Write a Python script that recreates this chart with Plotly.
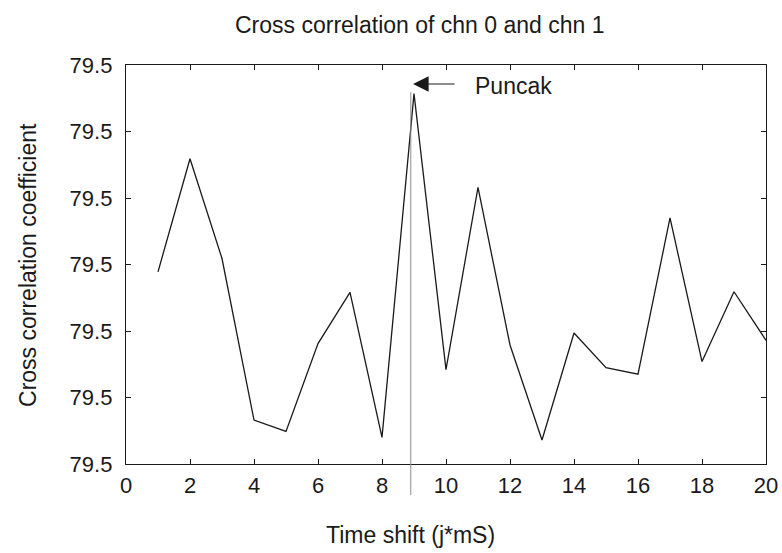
import plotly.graph_objects as go

time_shift = list(range(1, 21))
coeff = [79.50289, 79.50459, 79.50309, 79.50066, 79.50049, 79.50181, 79.50258,
         79.50040, 79.50557, 79.50142, 79.50416, 79.50179, 79.50036, 79.50197,
         79.50145, 79.50135, 79.50370, 79.50154, 79.50259, 79.50186]
y_ticks = [79.500, 79.501, 79.502, 79.503, 79.504, 79.505, 79.506]
x_ticks = list(range(0, 21, 2))
peak_marker_x = 8.9
peak_arrow_tip = (8.97, 79.505714)
peak_label_pos = (10.84, 79.505684)

FONT = "Liberation Sans, Arial, Helvetica, sans-serif"

fig = go.Figure()
fig.add_trace(go.Scatter(x=time_shift, y=coeff, mode="lines",
                         line=dict(color="#1a1a1a", width=1.3),
                         showlegend=False, hoverinfo="skip"))

fig.add_shape(type="line", xref="x", yref="paper",
              x0=peak_marker_x, x1=peak_marker_x, y0=-0.078, y1=0.932,
              line=dict(color="#8c8c8c", width=1))

axis_common = dict(showgrid=False, zeroline=False, showline=True,
                   linecolor="#1a1a1a", linewidth=1.2, mirror="ticks",
                   ticks="inside", ticklen=5, tickcolor="#1a1a1a",
                   automargin=False,
                   tickfont=dict(family=FONT, size=22, color="#1a1a1a"))

fig.update_xaxes(range=[0, 20], tickvals=x_ticks, ticklabelstandoff=1, **axis_common)
fig.update_yaxes(range=[79.500, 79.506], tickvals=y_ticks, tickformat=".1f",
                 ticklabelstandoff=8, **axis_common)

fig.add_annotation(x=peak_arrow_tip[0], y=peak_arrow_tip[1], xref="x", yref="y",
                   text="", showarrow=True, arrowhead=2, arrowsize=2.6,
                   arrowwidth=1.2, arrowcolor="#1a1a1a", ax=43, ay=0,
                   axref="pixel", ayref="pixel")
fig.add_annotation(x=peak_label_pos[0], y=peak_label_pos[1], xref="x", yref="y",
                   text="Puncak", showarrow=False, xanchor="left", yanchor="middle",
                   font=dict(family=FONT, size=23, color="#1a1a1a"))

fig.add_annotation(x=0.459, y=1.100, xref="paper", yref="paper",
                   text="Cross correlation of chn 0 and chn 1", showarrow=False,
                   xanchor="center", yanchor="middle",
                   font=dict(family=FONT, size=23, color="#1a1a1a"))
fig.add_annotation(x=0.444, y=-0.178, xref="paper", yref="paper",
                   text="Time shift (j*mS)", showarrow=False,
                   xanchor="center", yanchor="middle",
                   font=dict(family=FONT, size=23, color="#1a1a1a"))
fig.add_annotation(x=-0.154, y=0.5, xref="paper", yref="paper",
                   text="Cross correlation coefficient", showarrow=False,
                   textangle=-90, xanchor="center", yanchor="middle",
                   font=dict(family=FONT, size=23, color="#1a1a1a"))

fig.update_layout(width=782, height=553,
                  margin=dict(l=126, r=16, t=65, b=89),
                  paper_bgcolor="white", plot_bgcolor="white",
                  font=dict(family=FONT, color="#1a1a1a"))

fig.write_html("out.html", config={"displayModeBar": False, "staticPlot": True},
               post_script="document.body.style.margin='0';document.body.style.padding='0';")
